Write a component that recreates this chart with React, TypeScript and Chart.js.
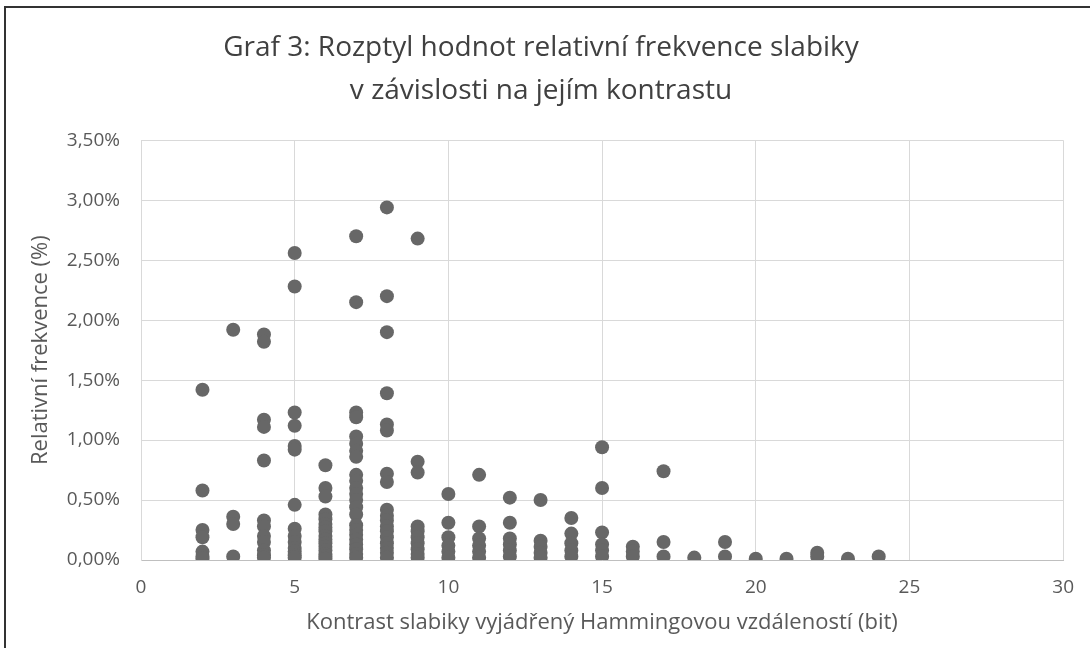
import React, { useEffect, useRef } from "react";
import { Chart, registerables } from "chart.js";

Chart.register(...registerables);

const titleLines = [
  "Graf 3: Rozptyl hodnot relativní frekvence slabiky",
  "v závislosti na jejím kontrastu",
];
const xAxisTitle = "Kontrast slabiky vyjádřený Hammingovou vzdáleností (bit)";
const yAxisTitle = "Relativní frekvence (%)";

// Hamming distance (bit) values
const contrastBits = [2, 3, 4, 5, 6, 7, 8, 9, 10, 11, 12, 13, 14, 15, 16, 17, 18, 19, 20, 21, 22, 23, 24];

// Relative frequency (%) for each contrast value
const bit2 = [1.42, 0.58, 0.25, 0.19, 0.07, 0.03, 0.01];
const bit3 = [1.92, 0.36, 0.3, 0.03];
const bit4 = [1.88, 1.82, 1.17, 1.11, 0.83, 0.33, 0.28, 0.2, 0.15, 0.08, 0.04, 0.02];
const bit5 = [2.56, 2.28, 1.23, 1.12, 0.95, 0.92, 0.46, 0.26, 0.2, 0.15, 0.1, 0.07, 0.04, 0.02];
const bit6 = [0.79, 0.6, 0.53, 0.38, 0.34, 0.3, 0.27, 0.24, 0.2, 0.17, 0.14, 0.11, 0.08, 0.05, 0.03, 0.01];
const bit7 = [2.7, 2.15, 1.23, 1.19, 1.03, 0.97, 0.91, 0.86, 0.71, 0.66, 0.6, 0.55, 0.5, 0.44, 0.38, 0.29, 0.25, 0.21, 0.17, 0.13, 0.09, 0.05, 0.02];
const bit8 = [2.94, 2.2, 1.9, 1.39, 1.13, 1.08, 0.72, 0.65, 0.42, 0.37, 0.33, 0.28, 0.24, 0.19, 0.14, 0.1, 0.06, 0.02];
const bit9 = [2.68, 0.82, 0.73, 0.28, 0.24, 0.19, 0.14, 0.09, 0.05, 0.02];
const bit10 = [0.55, 0.31, 0.19, 0.12, 0.07, 0.02];
const bit11 = [0.71, 0.28, 0.18, 0.12, 0.07, 0.02];
const bit12 = [0.52, 0.31, 0.18, 0.13, 0.08, 0.03];
const bit13 = [0.5, 0.16, 0.11, 0.06, 0.02];
const bit14 = [0.35, 0.22, 0.14, 0.08, 0.03];
const bit15 = [0.94, 0.6, 0.23, 0.13, 0.08, 0.03];
const bit16 = [0.11, 0.07, 0.03];
const bit17 = [0.74, 0.15, 0.03];
const bit18 = [0.02];
const bit19 = [0.15, 0.03];
const bit20 = [0.01];
const bit21 = [0.01];
const bit22 = [0.06, 0.03];
const bit23 = [0.01];
const bit24 = [0.03];

const frequencyByContrast = [
  bit2, bit3, bit4, bit5, bit6, bit7, bit8, bit9, bit10, bit11, bit12, bit13,
  bit14, bit15, bit16, bit17, bit18, bit19, bit20, bit21, bit22, bit23, bit24,
];

const FONT = "'Open Sans', 'Liberation Sans', sans-serif";

export default function App() {
  const canvasRef = useRef<HTMLCanvasElement | null>(null);

  useEffect(() => {
    if (!canvasRef.current) return;
    const points: { x: number; y: number }[] = [];
    contrastBits.forEach((bx, i) => {
      frequencyByContrast[i].forEach((v) => points.push({ x: bx, y: v }));
    });

    const chart = new Chart(canvasRef.current, {
      type: "scatter",
      data: {
        datasets: [
          {
            data: points,
            backgroundColor: "#676767",
            borderWidth: 0,
            pointRadius: 7,
            pointHoverRadius: 7,
          },
        ],
      },
      options: {
        animation: false,
        responsive: false,
        maintainAspectRatio: false,
        layout: { padding: { left: 18, right: 26, top: 0, bottom: 0 } },
        plugins: {
          legend: { display: false },
          tooltip: { enabled: false },
          title: {
            display: true,
            text: titleLines,
            color: "#404040",
            font: { family: FONT, size: 28, weight: "normal", lineHeight: 1.54 },
            padding: { top: 26, bottom: 28 },
          },
        },
        scales: {
          x: {
            type: "linear",
            min: 0,
            max: 30,
            ticks: {
              stepSize: 5,
              color: "#595959",
              font: { family: FONT, size: 19 },
              padding: 16,
            },
            grid: { color: "#d9d9d9", lineWidth: 1, drawTicks: false },
            border: { color: "#bfbfbf", width: 1 },
            title: {
              display: true,
              text: xAxisTitle,
              color: "#595959",
              font: { family: FONT, size: 22 },
              padding: { top: 4, bottom: 12 },
            },
            afterFit: (scale: any) => {
              scale.height = 88;
            },
          },
          y: {
            type: "linear",
            min: 0,
            max: 3.5,
            ticks: {
              stepSize: 0.5,
              color: "#595959",
              font: { family: FONT, size: 19 },
              padding: 21,
              callback: (v: any) => Number(v).toFixed(2).replace(".", ",") + "%",
            },
            grid: { color: "#d9d9d9", lineWidth: 1, drawTicks: false },
            border: { color: "#d9d9d9", width: 1 },
            title: {
              display: true,
              text: yAxisTitle,
              color: "#595959",
              font: { family: FONT, size: 22 },
              padding: { top: 10, bottom: 4 },
            },
            afterFit: (scale: any) => {
              scale.width = 123;
            },
          },
        },
      },
    });
    return () => chart.destroy();
  }, []);

  return (
    <div
      style={{
        position: "fixed",
        left: 0,
        top: 0,
        width: 1090,
        height: 648,
        background: "#ffffff",
        overflow: "hidden",
      }}
    >
      <canvas
        ref={canvasRef}
        width={1090}
        height={648}
        style={{ position: "absolute", left: 0, top: 0, width: 1090, height: 648 }}
      />
      <div
        style={{
          position: "absolute",
          left: 4,
          top: 6,
          width: 1090,
          height: 648,
          borderLeft: "2px solid #333333",
          borderTop: "2px solid #333333",
          pointerEvents: "none",
        }}
      />
    </div>
  );
}
